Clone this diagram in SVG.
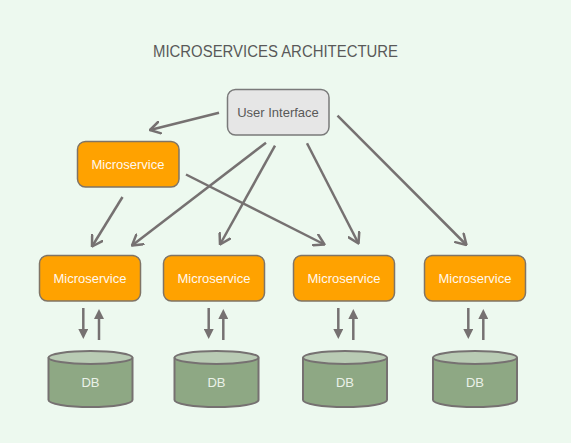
<svg xmlns="http://www.w3.org/2000/svg" width="571" height="443" viewBox="0 0 571 443">
<style>
text{font-family:"Liberation Sans",Arial,sans-serif;text-anchor:middle}
.title{font-size:16px;fill:#595959;text-anchor:start}
.ui rect{fill:#e6e6e6;stroke:#7a7a7a;stroke-width:1.5}
.ui text{font-size:13px;fill:#595959}
.ms rect{fill:#ffa200;stroke:#7f7466;stroke-width:1.5}
.ms text{font-size:13px;fill:#fff8ee}
.db path{fill:#8ea884;stroke:#767171;stroke-width:2}
.db ellipse{fill:#b9cbb4;stroke:#767171;stroke-width:2}
.db text{font-size:13px;fill:#eaf1e8}
.open{stroke:#767171;stroke-width:2.5;fill:none;marker-end:url(#openHead)}
.solid{stroke:#767171;stroke-width:2.5;fill:none;marker-end:url(#solidHead)}
</style>
<defs>
<marker id="openHead" viewBox="0 0 12 14" refX="11" refY="7" markerWidth="12" markerHeight="14" markerUnits="userSpaceOnUse" orient="auto">
<path d="M1,1 L11,7 L1,13" fill="none" stroke="#767171" stroke-width="2.5" stroke-linecap="round" stroke-linejoin="round"/>
</marker>
<marker id="solidHead" viewBox="0 0 10 10" refX="0" refY="5" markerWidth="10" markerHeight="10" markerUnits="userSpaceOnUse" orient="auto">
<path d="M0,0 L10,5 L0,10 z" fill="#767171"/>
</marker>
</defs>
<rect width="571" height="443" fill="#edf9ef"/>
<text class="title" x="153" y="56.5" textLength="245" lengthAdjust="spacingAndGlyphs">MICROSERVICES ARCHITECTURE</text>

<g id="connectors">
<line class="open" x1="219" y1="112.7" x2="150" y2="130"/>
<line class="open" x1="122.5" y1="197" x2="92" y2="246.5"/>
<line class="open" x1="266" y1="142.7" x2="132" y2="245.5"/>
<line class="open" x1="275" y1="145.7" x2="220" y2="244.5"/>
<line class="open" x1="186" y1="174.5" x2="324.5" y2="244.5"/>
<line class="open" x1="307" y1="143.3" x2="358.5" y2="243.5"/>
<line class="open" x1="337.5" y1="115.7" x2="466.5" y2="245"/>
<line class="solid" x1="83.3" y1="308" x2="83.3" y2="329"/>
<line class="solid" x1="99" y1="340" x2="99" y2="319"/>
<line class="solid" x1="208.7" y1="308" x2="208.7" y2="329"/>
<line class="solid" x1="223.3" y1="340" x2="223.3" y2="319"/>
<line class="solid" x1="338.3" y1="308" x2="338.3" y2="329"/>
<line class="solid" x1="353.3" y1="340" x2="353.3" y2="319"/>
<line class="solid" x1="468.3" y1="308" x2="468.3" y2="329"/>
<line class="solid" x1="483.3" y1="340" x2="483.3" y2="319"/>
</g>

<g id="ui" class="ui"><rect x="227.5" y="89.5" width="101.5" height="45.5" rx="8"/><text x="278" y="117">User Interface</text></g>
<g id="ms-top" class="ms"><rect x="77.5" y="141.5" width="101.5" height="45.5" rx="8"/><text x="128" y="169">Microservice</text></g>
<g id="ms1" class="ms"><rect x="39.5" y="255.5" width="101" height="45.5" rx="8"/><text x="90" y="283">Microservice</text></g>
<g id="ms2" class="ms"><rect x="163.5" y="255.5" width="101" height="45.5" rx="8"/><text x="214" y="283">Microservice</text></g>
<g id="ms3" class="ms"><rect x="293.5" y="255.5" width="101" height="45.5" rx="8"/><text x="344" y="283">Microservice</text></g>
<g id="ms4" class="ms"><rect x="424.5" y="255.5" width="101" height="45.5" rx="8"/><text x="475" y="283">Microservice</text></g>

<g id="db1" class="db"><path d="M48.5,357.5 V400 A42,7 0 0 0 132.5,400 V357.5"/><ellipse cx="90.5" cy="357.5" rx="42" ry="6.5"/><text x="90.5" y="387">DB</text></g>
<g id="db2" class="db"><path d="M174.5,357.5 V400 A42,7 0 0 0 258.5,400 V357.5"/><ellipse cx="216.5" cy="357.5" rx="42" ry="6.5"/><text x="216.5" y="387">DB</text></g>
<g id="db3" class="db"><path d="M303,357.5 V400 A42,7 0 0 0 387,400 V357.5"/><ellipse cx="345" cy="357.5" rx="42" ry="6.5"/><text x="345" y="387">DB</text></g>
<g id="db4" class="db"><path d="M433,357.5 V400 A42,7 0 0 0 517,400 V357.5"/><ellipse cx="475" cy="357.5" rx="42" ry="6.5"/><text x="475" y="387">DB</text></g>
</svg>
